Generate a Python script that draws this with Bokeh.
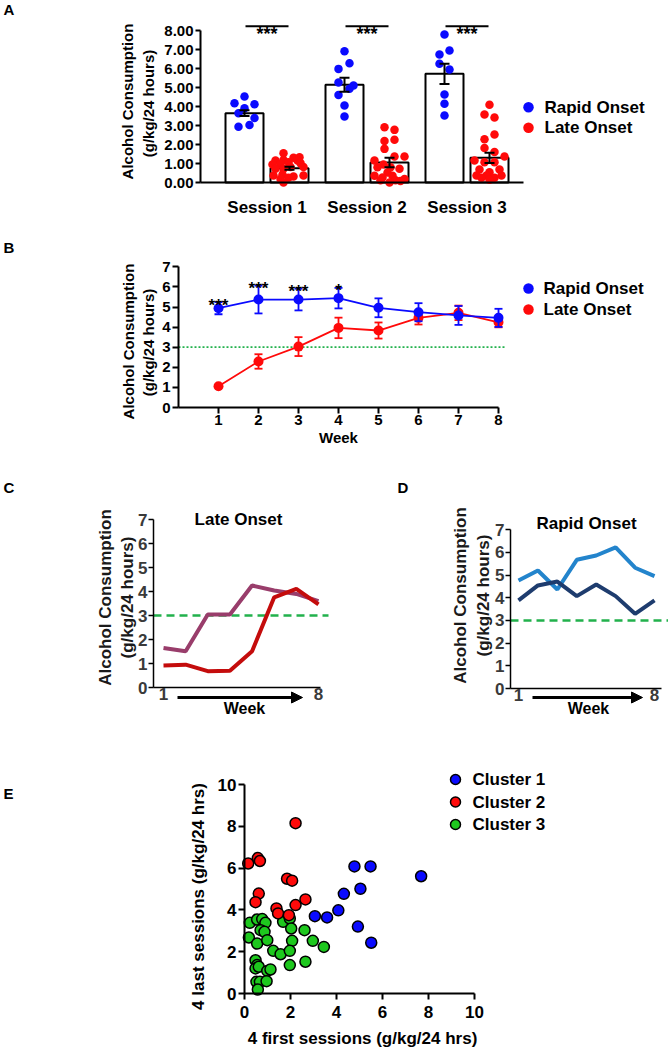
import math
from bokeh.plotting import figure
from bokeh.models import Range1d, FixedTicker, PrintfTickFormatter, Label, Arrow, NormalHead
from bokeh.layouts import column, row
from bokeh.embed import file_html
from bokeh.resources import INLINE
from bokeh.core.properties import value

FONT = "Liberation Sans"
BLUE = "#0a0aff"
RED = "#ff0a0a"
GREEN_LINE = "#22b14c"

# ======================= DATA =======================
# Panel A
sessions = ["Session 1", "Session 2", "Session 3"]
group_names = ["Rapid Onset", "Late Onset"]
rapid_mean = [3.65, 5.14, 5.72]
rapid_sem = [0.15, 0.37, 0.53]
late_mean = [0.75, 1.05, 1.30]
late_sem = [0.08, 0.25, 0.27]
session_sig = ["***", "***", "***"]

rapid_s1 = [4.53, 4.17, 4.12, 3.91, 3.65, 3.39, 3.03, 2.93]
rapid_s1_jit = [0.0, -0.10, 0.10, 0.0, -0.06, 0.10, 0.05, -0.06]
rapid_s2 = [6.91, 6.28, 5.98, 5.26, 5.10, 4.93, 4.60, 4.05, 3.47]
rapid_s2_jit = [0.0, 0.05, -0.06, -0.06, 0.09, 0.05, -0.06, 0.0, 0.0]
rapid_s3 = [7.79, 6.95, 6.74, 6.25, 5.95, 4.63, 4.14, 3.53]
rapid_s3_jit = [0.0, 0.05, -0.05, -0.05, 0.05, 0.0, 0.0, 0.0]

late_s1 = [1.54, 1.16, 1.19, 1.30, 1.33, 0.95, 0.98, 1.07, 1.16, 1.02, 0.72,
           0.72, 0.81, 0.81, 0.37, 0.42, 0.32, 0.37, 0.19, 0.25, 0.0]
late_s1_jit = [-0.06, -0.14, -0.06, 0.04, 0.10, -0.17, -0.09, -0.01, 0.08, 0.11, -0.14,
               -0.06, 0.01, 0.14, -0.16, -0.07, 0.04, 0.14, -0.09, -0.01, -0.06]
late_s2 = [2.91, 2.77, 2.18, 2.25, 1.77, 1.16, 1.37, 1.37, 0.95, 0.80, 0.80,
           0.72, 0.53, 0.35, 0.26, 0.35, 0.18, 0.12, 0.12, 0.0, 0.08]
late_s2_jit = [-0.05, 0.05, -0.05, 0.05, -0.05, -0.15, 0.05, 0.15, -0.06, -0.12, 0.01,
               0.10, -0.02, -0.15, -0.07, 0.03, 0.15, -0.09, 0.06, 0.0, 0.11]
late_s3 = [4.09, 3.58, 3.42, 2.53, 2.28, 1.81, 1.60, 1.37, 1.16, 1.07, 1.07,
           0.68, 0.68, 0.54, 0.37, 0.37, 0.37, 0.25, 0.25, 0.14]
late_s3_jit = [0.0, -0.05, 0.05, 0.05, -0.05, -0.05, 0.05, 0.15, -0.15, -0.05, 0.05,
               -0.10, 0.10, 0.0, -0.13, -0.03, 0.12, -0.08, 0.05, 0.0]

# Panel B
weeks = [1, 2, 3, 4, 5, 6, 7, 8]
rapid_week = [4.94, 5.37, 5.37, 5.44, 4.96, 4.74, 4.58, 4.46]
rapid_week_sem = [0.30, 0.69, 0.54, 0.51, 0.47, 0.45, 0.47, 0.45]
late_week = [1.06, 2.29, 3.03, 3.96, 3.83, 4.46, 4.71, 4.24]
late_week_sem = [0.05, 0.36, 0.47, 0.51, 0.40, 0.33, 0.36, 0.25]
week_sig = ["***", "***", "***", "*", "", "", "", ""]
threshold = 3

# Panel C (Late Onset examples)
late_example_1 = [1.65, 1.51, 3.04, 3.04, 4.25, 4.04, 3.90, 3.60]
late_example_2 = [0.92, 0.95, 0.68, 0.70, 1.51, 3.76, 4.11, 3.46]
# Panel D (Rapid Onset examples)
rapid_example_1 = [4.76, 5.20, 4.36, 5.67, 5.86, 6.22, 5.32, 4.95]
rapid_example_2 = [3.88, 4.54, 4.71, 4.07, 4.58, 4.07, 3.29, 3.88]

# Panel E
cluster_names = ["Cluster 1", "Cluster 2", "Cluster 3"]
c1_x = [3.06, 3.59, 4.08, 4.32, 4.78, 5.48, 5.04, 4.93, 5.51, 7.68]
c1_y = [3.70, 3.64, 3.98, 4.77, 6.08, 6.08, 5.01, 3.20, 2.43, 5.61]
c2_x = [0.16, 0.58, 0.67, 0.62, 0.48, 1.39, 1.46, 1.85, 2.07, 1.93, 2.22, 2.65, 2.22]
c2_y = [6.22, 6.48, 6.34, 4.78, 4.37, 4.07, 3.83, 5.49, 5.40, 3.75, 4.23, 4.50, 8.15]
c3_x = [0.23, 0.19, 0.55, 0.55, 0.77, 0.91, 0.70, 0.87, 0.99, 0.48, 0.55, 0.48, 0.62, 0.99,
        1.13, 0.52, 0.67, 0.96, 0.58, 1.25, 1.57, 1.68, 1.97, 2.03, 2.07, 1.97, 1.97, 2.61,
        2.97, 3.45, 2.65]
c3_y = [3.38, 2.68, 3.54, 2.39, 3.56, 3.38, 3.03, 2.95, 2.55, 1.59, 1.36, 1.20, 1.28, 1.08,
        1.15, 0.56, 0.56, 0.59, 0.19, 2.04, 1.88, 3.43, 3.59, 3.11, 2.52, 2.04, 1.36, 3.03,
        2.52, 2.23, 1.52]


# ======================= HELPERS =======================
def make_fig(W, H, ax_cx, ax_val, pxu, ay_cy, ay_val, pyu):
    """Figure whose frame covers the whole canvas; data value ax_val sits at canvas x ax_cx,
    ay_val at canvas y ay_cy (measured from the top)."""
    x_left = ax_val - ax_cx / pxu
    y_top = ay_val + ay_cy / pyu
    p = figure(width=W, height=H, output_backend="svg", toolbar_location=None,
               x_range=Range1d(x_left, x_left + W / pxu), y_range=Range1d(y_top - H / pyu, y_top),
               min_border=0, min_border_left=0, min_border_right=0,
               min_border_top=0, min_border_bottom=0)
    try:
        p.frame_align = False
    except Exception:
        pass
    p.outline_line_color = None
    p.grid.visible = False
    p.background_fill_color = "white"
    p.border_fill_color = "white"
    dx = lambda cx: x_left + cx / pxu
    dy = lambda cy: y_top - cy / pyu
    return p, dx, dy


def style_axis(ax, lw, size, color="black", tick_out=6, standoff=2, ticks=True, line_color="black"):
    ax.axis_line_width = lw
    ax.axis_line_color = line_color
    ax.major_tick_line_width = lw
    ax.major_tick_line_color = line_color if ticks else None
    ax.major_tick_in = 0
    ax.major_tick_out = tick_out if ticks else 0
    ax.minor_tick_line_color = None
    ax.major_label_text_font = FONT
    ax.major_label_text_font_style = "bold"
    ax.major_label_text_font_size = size
    ax.major_label_text_color = color
    ax.major_label_standoff = standoff


def clabel(p, x, y, text, size, bold=True, align="center", baseline="middle", angle=0.0, color="black"):
    p.add_layout(Label(x=x, y=y, x_units="canvas", y_units="canvas", text=text,
                       text_font=FONT, text_font_size=size,
                       text_font_style="bold" if bold else "normal",
                       text_align=align, text_baseline=baseline, angle=angle, text_color=color))


def errbars(p, xs, m, e, cap, color, lw):
    lo = [a - b for a, b in zip(m, e)]
    hi = [a + b for a, b in zip(m, e)]
    p.segment(x0=xs, y0=lo, x1=xs, y1=hi, line_color=color, line_width=lw)
    p.segment(x0=[x - cap for x in xs], y0=hi, x1=[x + cap for x in xs], y1=hi, line_color=color, line_width=lw)
    p.segment(x0=[x - cap for x in xs], y0=lo, x1=[x + cap for x in xs], y1=lo, line_color=color, line_width=lw)


def gtext(p, x, y, texts, size, align="left", baseline="middle", color="black"):
    p.text(x=x, y=y, text=texts, text_font=value(FONT), text_font_style="bold",
           text_font_size=size, text_align=align, text_baseline=baseline, text_color=color)


FIG_W = 668

# ======================= PANEL A =======================  (page y 0..235)
sx = [i + 1 for i in range(len(sessions))]
pa, adx, ady = make_fig(FIG_W, 235, 266.5, sx[0], 100.0, 182, 0.0, 19.0)
OFF, BW = 0.225, 0.38
rx = [s - OFF for s in sx]
lx = [s + OFF for s in sx]
pa.vbar(x=rx, top=rapid_mean, width=BW, fill_color="white", line_color="black", line_width=2)
pa.vbar(x=lx, top=late_mean, width=BW, fill_color="white", line_color="black", line_width=2)
rapid_dots = [rapid_s1, rapid_s2, rapid_s3]
rapid_jits = [rapid_s1_jit, rapid_s2_jit, rapid_s3_jit]
late_dots = [late_s1, late_s2, late_s3]
late_jits = [late_s1_jit, late_s2_jit, late_s3_jit]
for i in range(len(sessions)):
    pa.scatter([rx[i] + j for j in rapid_jits[i]], rapid_dots[i], size=8.5, fill_color=BLUE, line_color=None)
    pa.scatter([lx[i] + j for j in late_jits[i]], late_dots[i], size=8.5, fill_color=RED, line_color=None)
errbars(pa, rx, rapid_mean, rapid_sem, 0.05, "black", 2)
errbars(pa, lx, late_mean, late_sem, 0.05, "black", 2)
sig_line_y = ady(25.7)
pa.segment(x0=[s - 0.215 for s in sx], y0=[sig_line_y] * 3, x1=[s + 0.215 for s in sx],
           y1=[sig_line_y] * 3, line_color="black", line_width=2)
gtext(pa, sx, [ady(33)] * 3, session_sig, "18px", align="center", baseline="alphabetic")
for k, (nm, col) in enumerate(zip(group_names, [BLUE, RED])):
    pa.scatter([adx(528)], [ady(106.7 + 20.6 * k)], size=10.5, fill_color=col, line_color=None)
    gtext(pa, [adx(544)], [ady(106.7 + 20.6 * k)], [nm], "17px")

xa = pa.xaxis[0]
style_axis(xa, 2, "17px", ticks=False, standoff=15)
xa.ticker = FixedTicker(ticks=sx)
xa.major_label_overrides = {s: nm for s, nm in zip(sx, sessions)}
xa.fixed_location = 0
xa.bounds = (adx(200), adx(523))
ya = pa.yaxis[0]
style_axis(ya, 2, "15px", tick_out=5, standoff=2)
ya.ticker = FixedTicker(ticks=list(range(9)))
ya.formatter = PrintfTickFormatter(format="%.2f")
ya.fixed_location = adx(200)
ya.bounds = (0, 8)
clabel(pa, 3, 8.5, "A", "15px", align="left")
clabel(pa, 127, 101, "Alcohol Consumption", "15px", angle=math.pi / 2)
clabel(pa, 148, 103, "(g/kg/24 hours)", "15px", angle=math.pi / 2)

# ======================= PANEL B =======================  (page y 235..470)
pb, bdx, bdy = make_fig(FIG_W, 235, 178, 0.0, 40.0, 172, 0.0, 20.1)
pb.line(x=[0, weeks[-1] + 0.15], y=[threshold, threshold], line_color=GREEN_LINE,
        line_width=1.7, line_dash="2 2")
pb.line(weeks, late_week, line_color=RED, line_width=1.8)
errbars(pb, weeks, late_week, late_week_sem, 0.1, RED, 1.8)
pb.scatter(weeks, late_week, size=10, fill_color=RED, line_color=None)
pb.line(weeks, rapid_week, line_color=BLUE, line_width=1.8)
errbars(pb, weeks, rapid_week, rapid_week_sem, 0.1, BLUE, 1.8)
pb.scatter(weeks, rapid_week, size=10, fill_color=BLUE, line_color=None)
star_w = [w for w, s in zip(weeks, week_sig) if s]
star_y = [m + e - 0.15 for m, e, s in zip(rapid_week, rapid_week_sem, week_sig) if s]
gtext(pb, star_w, star_y, [s for s in week_sig if s], "17px", align="center", baseline="alphabetic")
for k, (nm, col) in enumerate(zip(group_names, [BLUE, RED])):
    pb.scatter([bdx(528)], [bdy(53 + 21 * k)], size=10.5, fill_color=col, line_color=None)
    gtext(pb, [bdx(543)], [bdy(53 + 21 * k)], [nm], "17px")
xb = pb.xaxis[0]
style_axis(xb, 2, "15px", tick_out=6, standoff=1)
xb.ticker = FixedTicker(ticks=weeks)
xb.fixed_location = 0
xb.bounds = (0, weeks[-1])
yb = pb.yaxis[0]
style_axis(yb, 2, "15px", tick_out=6, standoff=2)
yb.ticker = FixedTicker(ticks=list(range(8)))
yb.fixed_location = 0
yb.bounds = (0, 7)
clabel(pb, 3, 11.5, "B", "15px", align="left")
clabel(pb, 128, 106, "Alcohol Consumption", "15px", angle=math.pi / 2)
clabel(pb, 148, 107, "(g/kg/24 hours)", "15px", angle=math.pi / 2)
clabel(pb, 338, 202, "Week", "15px")

# ======================= PANEL C =======================  (page x 0..340, y 470..760)
pc, cdx, cdy = make_fig(340, 290, 163, weeks[0], 22.14, 217, 0.0, 24.0)
pc.line(x=[cdx(153), cdx(328)], y=[threshold, threshold], line_color=GREEN_LINE,
        line_width=2.5, line_dash="8 5")
pc.line(weeks, late_example_1, line_color="#993d6b", line_width=4)
pc.line(weeks, late_example_2, line_color="#c40c0c", line_width=4)
xc = pc.xaxis[0]
style_axis(xc, 1.5, "17px", color="#3a3a3a", ticks=False, standoff=0)
xc.ticker = FixedTicker(ticks=[weeks[0], weeks[-1]])
xc.fixed_location = 0
xc.bounds = (cdx(153), cdx(320))
yc = pc.yaxis[0]
style_axis(yc, 1.5, "17px", color="#3a3a3a", tick_out=5, standoff=1)
yc.ticker = FixedTicker(ticks=list(range(8)))
yc.fixed_location = cdx(153)
yc.bounds = (0, 7)
pc.add_layout(Arrow(end=NormalHead(size=11, fill_color="black", line_color="black"),
                    x_start=cdx(177), y_start=cdy(227), x_end=cdx(302),
                    y_end=cdy(227), line_width=3, line_color="black"))
clabel(pc, 3, 16.5, "C", "15px", align="left")
clabel(pc, 238, 49, "Late Onset", "17px")
clabel(pc, 105, 127, "Alcohol Consumption", "17px", angle=math.pi / 2, color="#1a1a1a")
clabel(pc, 127, 127, "(g/kg/24 hours)", "17px", angle=math.pi / 2, color="#1a1a1a")
clabel(pc, 244, 238, "Week", "16px")

# ======================= PANEL D =======================  (page x 340..668, y 470..760)
pd_, ddx, ddy = make_fig(FIG_W - 340, 290, 178, weeks[0], 19.43, 218, 0.0, 22.7)
pd_.line(x=[ddx(170), ddx(330)], y=[threshold, threshold], line_color=GREEN_LINE,
         line_width=2.5, line_dash="8 5")
pd_.line(weeks, rapid_example_1, line_color="#2384cc", line_width=4)
pd_.line(weeks, rapid_example_2, line_color="#1e3c6e", line_width=4)
xd = pd_.xaxis[0]
style_axis(xd, 1.5, "17px", color="#3a3a3a", ticks=False, standoff=0)
xd.ticker = FixedTicker(ticks=[weeks[0], weeks[-1]])
xd.fixed_location = 0
xd.bounds = (ddx(170), ddx(321))
yd = pd_.yaxis[0]
style_axis(yd, 1.5, "17px", color="#3a3a3a", tick_out=5, standoff=1)
yd.ticker = FixedTicker(ticks=list(range(8)))
yd.fixed_location = ddx(170)
yd.bounds = (0, 7)
pd_.add_layout(Arrow(end=NormalHead(size=11, fill_color="black", line_color="black"),
                     x_start=ddx(192), y_start=ddy(227), x_end=ddx(302),
                     y_end=ddy(227), line_width=3, line_color="black"))
clabel(pd_, 57, 17, "D", "15px", align="left")
clabel(pd_, 246, 53, "Rapid Onset", "17px")
clabel(pd_, 120, 125, "Alcohol Consumption", "17px", angle=math.pi / 2, color="#1a1a1a")
clabel(pd_, 143, 125, "(g/kg/24 hours)", "17px", angle=math.pi / 2, color="#1a1a1a")
clabel(pd_, 248, 238, "Week", "16px")

# ======================= PANEL E =======================  (page y 760..1050)
pe, edx, edy = make_fig(FIG_W, 290, 244, 0.0, 23.0, 233, 0.0, 20.9)
cluster_colors = ["#0a0aff", "#ff0a0a", "#1ec81e"]
for xs, ys, col in [(c3_x, c3_y, cluster_colors[2]), (c2_x, c2_y, cluster_colors[1]),
                    (c1_x, c1_y, cluster_colors[0])]:
    pe.scatter(xs, ys, size=11, fill_color=col, line_color="black", line_width=1.5)
for k, (nm, col) in enumerate(zip(cluster_names, cluster_colors)):
    yy = edy(19 + 22.5 * k)
    pe.scatter([edx(455)], [yy], size=10, fill_color=col, line_color="black", line_width=1.5)
    gtext(pe, [edx(472)], [yy], [nm], "17px")
xe = pe.xaxis[0]
style_axis(xe, 2, "17px", tick_out=6, standoff=6)
xe.ticker = FixedTicker(ticks=[0, 2, 4, 6, 8, 10])
xe.fixed_location = 0
xe.bounds = (0, 10)
ye = pe.yaxis[0]
style_axis(ye, 2, "17px", tick_out=6, standoff=2)
ye.ticker = FixedTicker(ticks=[0, 2, 4, 6, 8, 10])
ye.fixed_location = 0
ye.bounds = (0, 10)
clabel(pe, 3, 33, "E", "15px", align="left")
clabel(pe, 198, 136, "4 last sessions (g/kg/24 hrs)", "17px", angle=math.pi / 2)
clabel(pe, 362, 278, "4 first sessions (g/kg/24 hrs)", "17px")

layout = column(pa, pb, row(pc, pd_), pe)
open("out.html", "w").write(file_html(layout, INLINE))
